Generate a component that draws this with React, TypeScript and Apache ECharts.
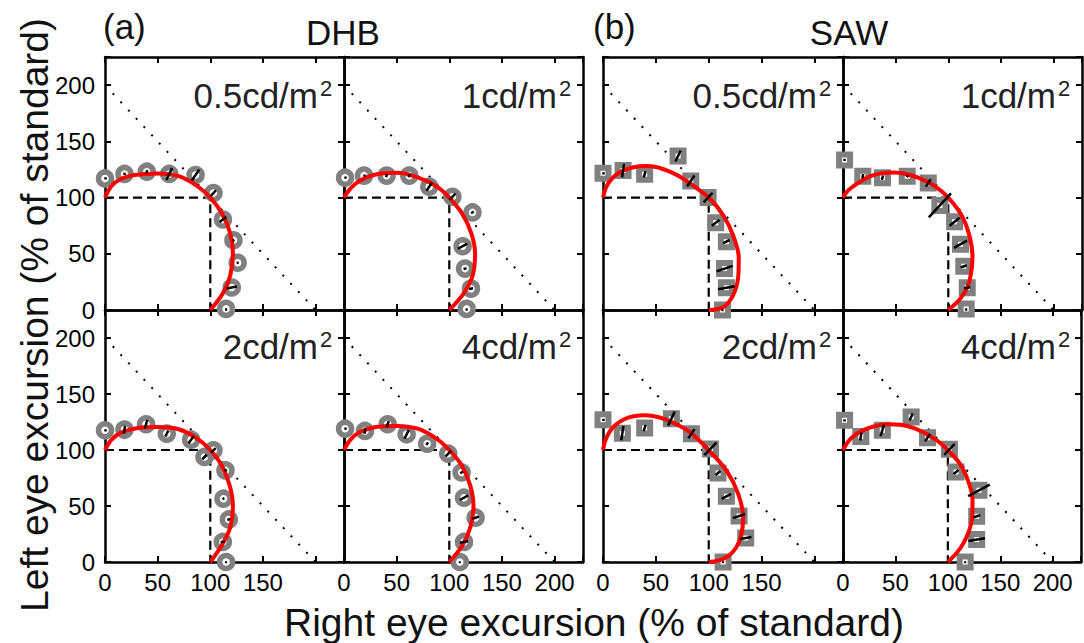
import React, { useEffect, useRef } from "react";
import * as echarts from "echarts";

// ---------- data ----------
// each point: [right eye %, left eye %, radial error half-length]
const dhb05 = [[0,117,1],[18.5,121,1],[39.7,123,1.5],[61,121,6],[86,120,6],[103,104,3.5],[112,80.5,4],[122,62,1],[126,42,1],[120.4,20,5],[115,1,1]];
const dhb1 = [[1,117.7,1],[19,119.5,1],[40.5,119.5,1.5],[62,119.5,1.5],[81,109.7,4.5],[103,100.7,4],[122,86.8,1.5],[112.7,56.7,5],[115,36.8,1.5],[120.6,19,2],[116.5,1,1]];
const dhb2 = [[0,117.6,1],[18.5,118.2,3.5],[39,123,4],[58.7,114.6,3],[81.8,109.2,4],[94.5,93.8,3],[103,99.7,3],[114.4,81.8,1.5],[112.5,56.5,1],[117.6,38,1.5],[111.9,17.9,2],[115,0,1]];
const dhb4 = [[1,119,1],[19.9,117,2.5],[41.5,123,3],[59.5,114,4.5],[79,105.6,1.5],[99,96.7,3.5],[111.7,80,1.5],[114,57.4,4.5],[125,39.6,3.5],[114,17.9,4],[110,0,1]];
const saw05 = [[0,121.6,1],[19,124,6],[39.4,120.7,3],[71,137,5.5],[83,114.7,6],[99.4,100,6],[106.6,77.5,4.5],[116.7,60.8,3.5],[115,36.8,8],[116.7,19.8,8],[113,0,1]];
const saw1 = [[1.5,133.5,1],[18.8,119,2],[37.5,117.7,2],[61,119,1],[81,113,4],[92,93,15],[106,78.4,6],[111.6,58.5,7],[114.7,38.8,3],[118,19.8,3],[117,1,1]];
const saw2 = [[0,127,1],[18.3,115,6.5],[39.4,119.6,3],[64.7,128,7],[83.6,114.6,5],[101.6,101,8],[108.8,79.5,3],[116.7,58.6,5],[128.7,41,6],[135,21.4,5.5],[113.6,0,1]];
const saw4 = [[1.5,126.5,1],[17,112,3.5],[37.5,117.6,5.5],[65,129.5,3.5],[80.6,111,4],[101.5,100.6,7],[107.8,80.4,3],[129.7,64,11.5],[127.5,40.8,3.5],[127.5,20,8],[116.5,0,1]];

// fitted model curves
const dhb05Fit = [[0,100],[6,110],[15,116.5],[28,120],[50,121.5],[70,119],[88,110],[100,100],[111,86],[119,68],[121.5,50],[119,31],[112,15],[100,0]];
const dhb1Fit = [[0,100],[6,108],[15,115],[30,120.5],[50,122],[70,118],[88,110],[100,100],[112,86],[121,68],[124.5,50],[122,30],[113,14],[100,0]];
const dhb2Fit = [[0,100],[6,109],[15,115.5],[30,119.5],[50,120.5],[70,118.5],[88,110],[100,100],[111,86],[118.5,68],[121.5,50],[119,31],[111,15],[100,0]];
const dhb4Fit = [[0,100],[6,109],[15,116],[30,120.5],[50,121.5],[70,119],[88,110],[100,100],[112,86],[120,68],[123,50],[120,31],[112,14],[100,0]];
const saw05Fit = [[0,100],[2.5,108],[6,114],[12,120],[19,124],[29,127],[40,128],[51,127],[62,123.5],[72,119],[84,111.5],[100,100],[113.6,84.4],[123,66.5],[128.4,47],[127.8,29],[123,13],[113.6,2.5],[100,0]];
const saw1Fit = [[0,100],[4,105.5],[9.4,109.7],[17,114.5],[25,118.6],[36,121.5],[48,122.3],[60,121],[72,117.5],[87.5,110],[100,100],[112.5,84.4],[120,66.5],[123,47],[121.5,32],[118,20],[111,9.5],[102.5,2],[100,0]];
const saw2Fit = [[0,100],[2,108],[6,116],[12,122.5],[20,127.5],[30,130.3],[40,131],[52,129.5],[65,125],[82,116],[100,100],[116.7,81.8],[127.8,61],[132.5,40],[131,25],[126,13],[118,5],[108,1],[100,0]];
const saw4Fit = [[0,100],[5,107.5],[11,113],[20,118],[30,121.2],[42,123],[55,122.5],[69,119],[87.5,110],[100,100],[112,87],[119.5,72],[123.5,57],[123.5,44],[121,30],[115.6,18],[108,7.5],[100,0]];

const equalLine = [[0, 200], [200, 0]];
const standardBox = [[0, 100], [100, 100], [100, 0]];

const luminanceLabels = ["0.5cd/m", "1cd/m", "2cd/m", "4cd/m"];
const groupLetters = ["(a)", "(b)"];
const groupNames = ["DHB", "SAW"];
const xTicks = [0, 50, 100, 150, 200];
const xTitle = "Right eye excursion (% of standard)";
const yTitle = "Left eye excursion (% of standard)";

// ---------- layout ----------
const FONT = "Liberation Sans, Arial, Helvetica, sans-serif";
const X_MAX = 227;
const Y_MAX = 225;
const colsA = [{ left: 105, width: 239 }, { left: 344, width: 239 }];
const colsB = [{ left: 603, width: 240 }, { left: 843, width: 239 }];
const rows = [{ top: 57, height: 253 }, { top: 310, height: 252 }];

type Panel = {
  pts: number[][]; fit: number[][]; symbol: string; label: string;
  col: { left: number; width: number }; row: { top: number; height: number };
  showY: boolean; showX: boolean; xMaxLabel: number; rowIdx: number;
};

const panels: Panel[] = [
  { pts: dhb05, fit: dhb05Fit, symbol: "circle", label: luminanceLabels[0], col: colsA[0], row: rows[0], showY: true, showX: false, xMaxLabel: 150, rowIdx: 0 },
  { pts: dhb1, fit: dhb1Fit, symbol: "circle", label: luminanceLabels[1], col: colsA[1], row: rows[0], showY: false, showX: false, xMaxLabel: 200, rowIdx: 0 },
  { pts: dhb2, fit: dhb2Fit, symbol: "circle", label: luminanceLabels[2], col: colsA[0], row: rows[1], showY: true, showX: true, xMaxLabel: 150, rowIdx: 1 },
  { pts: dhb4, fit: dhb4Fit, symbol: "circle", label: luminanceLabels[3], col: colsA[1], row: rows[1], showY: false, showX: true, xMaxLabel: 200, rowIdx: 1 },
  { pts: saw05, fit: saw05Fit, symbol: "rect", label: luminanceLabels[0], col: colsB[0], row: rows[0], showY: false, showX: false, xMaxLabel: 150, rowIdx: 0 },
  { pts: saw1, fit: saw1Fit, symbol: "rect", label: luminanceLabels[1], col: colsB[1], row: rows[0], showY: false, showX: false, xMaxLabel: 200, rowIdx: 0 },
  { pts: saw2, fit: saw2Fit, symbol: "rect", label: luminanceLabels[2], col: colsB[0], row: rows[1], showY: false, showX: true, xMaxLabel: 150, rowIdx: 1 },
  { pts: saw4, fit: saw4Fit, symbol: "rect", label: luminanceLabels[3], col: colsB[1], row: rows[1], showY: false, showX: true, xMaxLabel: 200, rowIdx: 1 },
];

function buildOption() {
  const grids: any[] = [];
  const xAxes: any[] = [];
  const yAxes: any[] = [];
  const series: any[] = [];
  const graphics: any[] = [];

  const axisLine = { show: true, onZero: false, lineStyle: { color: "#000", width: 2.5 } };
  const axisTick = { show: true, inside: true, length: 6, lineStyle: { color: "#000", width: 2 } };
  const labelStyle = { color: "#000", fontSize: 24, fontFamily: FONT };

  panels.forEach((p, i) => {
    grids.push({ left: p.col.left, top: p.row.top, width: p.col.width, height: p.row.height, containLabel: false });
    const xMaxLabel = p.xMaxLabel;
    const xBase = { gridIndex: i, type: "value", min: 0, max: X_MAX, interval: 50, axisLine, axisTick, splitLine: { show: false } };
    const yBase = { gridIndex: i, type: "value", min: 0, max: Y_MAX, interval: 50, axisLine, axisTick, splitLine: { show: false } };
    xAxes.push({
      ...xBase, position: "bottom",
      axisLabel: {
        show: p.showX, margin: 8, ...labelStyle,
        formatter: (v: number) => (xTicks.includes(v) && v <= xMaxLabel ? String(v) : ""),
      },
    });
    xAxes.push({ ...xBase, position: "top", axisLabel: { show: false } });
    yAxes.push({
      ...yBase, position: "left",
      axisLabel: {
        show: p.showY, margin: 10, ...labelStyle,
        formatter: (v: number) => (v % 50 === 0 && v <= 200 ? String(v) : ""),
      },
    });
    yAxes.push({ ...yBase, position: "right", axisLabel: { show: false } });

    const ax = { xAxisIndex: 2 * i, yAxisIndex: 2 * i };
    series.push({
      type: "line", ...ax, data: equalLine, symbol: "none", silent: true, z: 2,
      lineStyle: { color: "#000", width: 2, type: [2, 9.3] },
    });
    series.push({
      type: "line", ...ax, data: standardBox, symbol: "none", silent: true, z: 2,
      lineStyle: { color: "#000", width: 2.2, type: [9, 5] },
    });
    series.push({
      type: "scatter", ...ax, data: p.pts.map((d) => [d[0], d[1]]), clip: false, z: 3,
      symbol: p.symbol, symbolSize: p.symbol === "rect" ? 11 : 13,
      itemStyle: { color: "#fff", borderColor: "#808080", borderWidth: p.symbol === "rect" ? 6 : 5.5, opacity: 1 },
    });
    series.push({
      type: "line", ...ax, data: p.fit, symbol: "none", smooth: 0.3, clip: false, silent: true, z: 4,
      lineStyle: { color: "#ff0000", width: 4 },
    });
    series.push({
      type: "lines", coordinateSystem: "cartesian2d", ...ax, silent: true, z: 5, polyline: false,
      symbol: ["none", "none"],
      lineStyle: { color: "#000", width: 2.5, opacity: 1, curveness: 0 },
      data: p.pts.map((d) => {
        const r = Math.hypot(d[0], d[1]);
        const ux = d[0] / r, uy = d[1] / r;
        return { coords: [[d[0] - d[2] * ux, d[1] - d[2] * uy], [d[0] + d[2] * ux, d[1] + d[2] * uy]] };
      }),
    });

    const right = p.col.left + p.col.width;
    const mainY = p.rowIdx === 0 ? 95.5 : 346;
    const supY = p.rowIdx === 0 ? 88 : 339;
    graphics.push({
      type: "text", silent: true, z: 100,
      style: { text: p.label, x: right - 26, y: mainY, font: `35px ${FONT}`, fill: "#222", textAlign: "right", textVerticalAlign: "middle", align: "right", verticalAlign: "middle" },
    });
    graphics.push({
      type: "text", silent: true, z: 100,
      style: { text: "2", x: right - 24, y: supY, font: `22px ${FONT}`, fill: "#222", textAlign: "left", textVerticalAlign: "middle", align: "left", verticalAlign: "middle" },
    });
  });

  const titleStyle = (text: string, x: number, y: number, align: string) => ({
    type: "text", silent: true, z: 100,
    style: { text, x, y, font: `35px ${FONT}`, fill: "#111", textAlign: align, textVerticalAlign: "middle", align, verticalAlign: "middle" },
  });
  graphics.push(titleStyle(groupLetters[0], 103, 26, "left"));
  graphics.push(titleStyle(groupNames[0], 343, 32.5, "center"));
  graphics.push(titleStyle(groupLetters[1], 593, 26, "left"));
  graphics.push(titleStyle(groupNames[1], 849, 32.5, "center"));
  graphics.push({
    type: "text", silent: true, z: 100,
    style: { text: xTitle, x: 594, y: 622, font: `39px ${FONT}`, fill: "#111", textAlign: "center", textVerticalAlign: "middle", align: "center", verticalAlign: "middle" },
  });
  graphics.push({
    type: "text", silent: true, z: 100, x: 34, y: 315, rotation: Math.PI / 2,
    style: { text: yTitle, x: 0, y: 0, font: `39px ${FONT}`, fill: "#111", textAlign: "center", textVerticalAlign: "middle", align: "center", verticalAlign: "middle" },
  });

  return {
    animation: false,
    backgroundColor: "#fff",
    textStyle: { fontFamily: FONT },
    grid: grids,
    xAxis: xAxes,
    yAxis: yAxes,
    series,
    graphic: { elements: graphics },
  };
}

export default function App() {
  const ref = useRef<HTMLDivElement>(null);
  useEffect(() => {
    if (!ref.current) return;
    const chart = echarts.init(ref.current, undefined, { renderer: "svg" });
    chart.setOption(buildOption() as any);
    return () => chart.dispose();
  }, []);
  return (
    <div
      ref={ref}
      style={{ position: "fixed", left: 0, top: 0, width: 1084, height: 643, background: "#fff" }}
    />
  );
}
